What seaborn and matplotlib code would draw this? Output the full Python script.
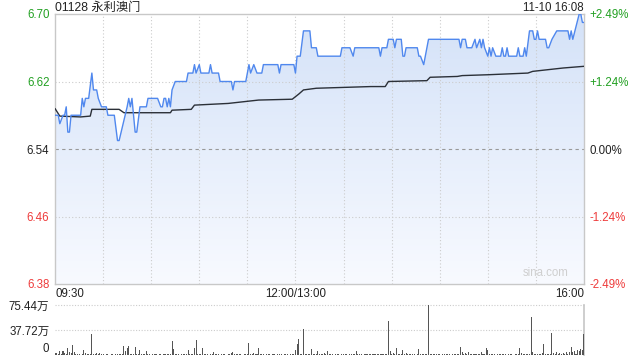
import numpy as np
import matplotlib
matplotlib.use("Agg")
import matplotlib.pyplot as plt
from matplotlib.colors import LinearSegmentedColormap
import seaborn as sns

sns.set_theme(style="white")
plt.rcParams['font.family'] = ['Liberation Sans', 'Noto Sans CJK SC', 'DejaVu Sans']

# ---------------- data ----------------
title = "01128 永利澳门"
stamp = "11-10 16:08"
prev_close = 6.54
y_ticks = [6.38, 6.46, 6.54, 6.62, 6.70]
pct_labels = ["-2.49%", "-1.24%", "0.00%", "+1.24%", "+2.49%"]
x_tick_pos = [0, 150, 330]
x_tick_labels = ["09:30", "12:00/13:00", "16:00"]
vol_ticks = [0, 37.72, 75.44]
vol_tick_labels = ["0", "37.72万", "75.44万"]

# minutes since 09:30 (lunch break removed) and price
price_t = [0, 2, 3, 5, 6, 7, 8, 9, 10, 16, 17, 18, 19, 21, 23, 24, 26, 27, 29, 32,
           33, 37, 39, 40, 45, 46, 47, 48, 50, 51, 53, 57, 58, 64, 66, 67, 68, 69, 70, 71,
           72, 73, 75, 82, 83, 86, 87, 88, 90, 91, 96, 97, 98, 102, 103, 110, 111, 112, 119, 120,
           121, 122, 124, 126, 129, 130, 139, 140, 141, 149, 150, 151, 153, 155, 159, 160, 163, 164, 178, 179,
           184, 186, 187, 202, 203, 204, 207, 208, 211, 212, 213, 216, 217, 218, 219, 226, 227, 228, 230, 231,
           233, 252, 253, 254, 256, 257, 260, 262, 263, 265, 266, 267, 268, 270, 271, 272, 273, 275, 278, 279,
           280, 281, 282, 283, 288, 289, 290, 292, 293, 294, 296, 298, 299, 300, 301, 302, 306, 307, 308, 310,
           313, 320, 321, 322, 323, 327, 328, 329, 330]
price_p = [6.58, 6.58, 6.57, 6.58, 6.58, 6.59, 6.56, 6.56, 6.58, 6.58, 6.60, 6.59, 6.60, 6.60, 6.63, 6.61, 6.61, 6.60, 6.59, 6.59,
           6.58, 6.58, 6.55, 6.55, 6.59, 6.60, 6.59, 6.60, 6.56, 6.56, 6.59, 6.59, 6.60, 6.60, 6.59, 6.59, 6.60, 6.60, 6.59, 6.60,
           6.59, 6.61, 6.62, 6.62, 6.63, 6.63, 6.64, 6.63, 6.64, 6.63, 6.63, 6.64, 6.63, 6.63, 6.62, 6.62, 6.61, 6.62, 6.62, 6.63,
           6.64, 6.63, 6.64, 6.63, 6.63, 6.64, 6.64, 6.63, 6.64, 6.64, 6.63, 6.65, 6.65, 6.68, 6.68, 6.66, 6.66, 6.65, 6.65, 6.66,
           6.66, 6.65, 6.66, 6.66, 6.65, 6.66, 6.66, 6.67, 6.67, 6.66, 6.67, 6.67, 6.65, 6.65, 6.66, 6.66, 6.65, 6.65, 6.64, 6.65,
           6.67, 6.67, 6.66, 6.67, 6.67, 6.66, 6.66, 6.67, 6.66, 6.67, 6.66, 6.67, 6.66, 6.65, 6.66, 6.65, 6.66, 6.65, 6.65, 6.66,
           6.65, 6.65, 6.66, 6.65, 6.65, 6.66, 6.65, 6.65, 6.66, 6.65, 6.68, 6.68, 6.67, 6.67, 6.68, 6.67, 6.67, 6.66, 6.66, 6.67,
           6.68, 6.68, 6.67, 6.68, 6.67, 6.70, 6.70, 6.69, 6.69]

avg_t = [0, 3, 16, 22, 23, 40, 43, 67, 72, 73, 85, 87, 108, 127, 148, 152, 155, 163, 180, 197,
         206, 208, 232, 234, 251, 254, 270, 295, 298, 317, 330]
avg_p = [6.588, 6.579, 6.578, 6.579, 6.587, 6.587, 6.583, 6.583, 6.583, 6.586, 6.587, 6.592, 6.594, 6.598, 6.599,
         6.605, 6.610, 6.612, 6.613, 6.614, 6.614, 6.620, 6.621, 6.625, 6.626, 6.627, 6.628, 6.630, 6.632, 6.636, 6.638]

# volume per minute (万), minutes 0..330
volume = [
    2.5, 2.5, 1.0, 6.0, 1.2, 6.0, 2.5, 1.0, 10.0, 5.0,
    3.0, 14.6, 5.0, 1.5, 0.8, 1.0, 0.6, 1.2, 7.0, 2.5,
    1.5, 0.8, 1.0, 31.0, 2.0, 1.0, 2.5, 0.8, 2.5, 1.0,
    0.8, 0.6, 1.0, 0.8, 0.5, 0.8, 1.0, 0.7, 1.0, 0.8,
    1.0, 0.8, 1.2, 13.0, 6.0, 10.0, 13.0, 2.0, 1.0, 0.8,
    11.5, 2.0, 1.0, 7.0, 2.0, 1.0, 0.8, 6.0, 1.0, 0.8,
    0.6, 1.0, 0.8, 1.2, 0.6, 1.0, 0.8, 0.7, 1.0, 0.8,
    1.0, 0.8, 1.2, 21.0, 8.5, 1.5, 0.8, 1.0, 0.7, 0.8,
    1.0, 0.8, 1.2, 7.0, 2.0, 1.0, 0.8, 10.0, 22.6, 1.5,
    0.8, 1.0, 10.0, 1.2, 0.8, 1.0, 0.7, 1.0, 0.8, 4.0,
    1.0, 0.8, 1.5, 0.7, 1.0, 0.8, 1.2, 0.6, 1.0, 0.8,
    3.0, 4.0, 2.0, 1.5, 1.0, 0.8, 1.0, 0.7, 0.8, 1.0,
    0.8, 18.0, 2.0, 1.0, 2.5, 1.0, 0.8, 10.0, 1.2, 0.8,
    1.0, 0.7, 1.2, 0.8, 1.0, 0.6, 0.8, 1.0, 0.7, 1.0,
    0.8, 1.0, 0.7, 1.2, 0.8, 1.0, 0.6, 1.0, 0.8, 1.2,
    7.5, 16.0, 24.0, 1.0, 0.8, 38.7, 1.0, 0.8, 1.2, 0.8,
    9.0, 1.0, 0.8, 1.0, 6.0, 1.0, 2.0, 1.2, 2.5, 1.0,
    6.0, 1.0, 0.8, 1.2, 0.7, 1.0, 0.8, 1.0, 0.6, 0.8,
    1.0, 0.8, 1.2, 0.7, 1.0, 1.5, 0.8, 1.2, 6.0, 1.0,
    0.8, 1.0, 0.7, 1.2, 0.8, 1.0, 1.5, 0.8, 1.0, 1.2,
    2.0, 1.0, 0.8, 1.0, 1.2, 0.8, 1.0, 1.5, 51.3, 6.0,
    1.0, 2.5, 1.0, 10.0, 1.0, 2.0, 1.0, 7.0, 1.0, 2.5,
    1.0, 0.8, 1.2, 0.8, 1.0, 0.7, 1.0, 9.0, 2.0, 1.0,
    0.8, 1.0, 1.2, 75.4, 2.0, 1.0, 0.8, 1.2, 1.0, 0.8,
    1.0, 0.7, 1.2, 0.8, 1.0, 0.8, 1.2, 0.7, 1.0, 0.8,
    1.0, 1.2, 0.8, 11.5, 4.0, 1.0, 2.5, 1.0, 4.0, 1.0,
    0.8, 1.0, 2.0, 1.0, 0.8, 1.2, 4.0, 1.0, 1.2, 10.0,
    7.0, 1.0, 0.8, 1.0, 1.2, 0.7, 1.0, 0.8, 1.2, 1.0,
    0.8, 1.0, 0.7, 1.2, 0.8, 1.0, 0.7, 1.0, 1.2, 0.8,
    10.0, 2.5, 1.0, 0.8, 1.0, 1.2, 0.8, 56.8, 4.0, 1.0,
    2.0, 1.0, 1.2, 0.8, 3.0, 16.0, 1.0, 0.8, 1.2, 1.0,
    32.7, 2.5, 1.0, 4.0, 1.5, 3.0, 1.2, 3.0, 1.5, 4.0,
    2.0, 5.0, 12.5, 5.0, 6.0, 2.0, 7.5, 6.0, 8.5, 7.5,
    31.0,
]
vol_t = list(range(len(volume)))

# ---------------- styling ----------------
GREEN = '#22a022'
RED = '#ee3b3b'
DARK = '#222222'
SPINE = '#c8c8c8'
GRID = '#cccccc'
FS = 8.3

fig = plt.figure(figsize=(6.4, 3.6), dpi=100)
fig.patch.set_facecolor('white')
ax = fig.add_axes([55 / 640, 1 - 284 / 360, 529 / 640, 270 / 360])
axv = fig.add_axes([55 / 640, 1 - 355 / 360, 529 / 640, 50 / 360])

xmin, xmax = 0, 330
ymin, ymax = y_ticks[0], y_ticks[-1]
ax.set_xlim(xmin, xmax)
ax.set_ylim(ymin, ymax)
ax.set_facecolor('white')

# gradient fill under price line
fill = ax.fill_between(price_t, price_p, ymin, color='none', lw=0)
cmap = LinearSegmentedColormap.from_list('g', ['#f8faff', '#d4e2f8'])
grad = np.linspace(0, 1, 256).reshape(-1, 1)
im = ax.imshow(grad, extent=[xmin, xmax, ymin, ymax], origin='lower', aspect='auto',
               cmap=cmap, zorder=1)
im.set_clip_path(fill.get_paths()[0], transform=ax.transData)

# grid lines
for xv in range(30, 330, 30):
    ax.axvline(xv, color=GRID, lw=0.8, ls=(0, (1, 2)), zorder=2)
for yv in y_ticks[1:-1]:
    if abs(yv - prev_close) < 1e-9:
        ax.axhline(yv, color='#999999', lw=0.8, ls=(0, (3, 3)), zorder=2)
    else:
        ax.axhline(yv, color=GRID, lw=0.8, ls=(0, (1, 2)), zorder=2)

sns.lineplot(x=price_t, y=price_p, ax=ax, color='#5088ee', lw=1.0, zorder=4)
sns.lineplot(x=avg_t, y=avg_p, ax=ax, color='#2b3038', lw=1.0, zorder=3)

for s in ax.spines.values():
    s.set_color(SPINE)
    s.set_linewidth(1.0)

ax.set_yticks(y_ticks)
ax.set_yticklabels([f"{v:.2f}" for v in y_ticks])
ycols = [RED, RED, DARK, GREEN, GREEN]
for lab, c in zip(ax.get_yticklabels(), ycols):
    lab.set_color(c)
ax.tick_params(axis='y', length=0, pad=4, labelsize=FS)
ax.set_xticks(x_tick_pos)
ax.set_xticklabels(x_tick_labels)
ax.tick_params(axis='x', length=0, pad=3, labelsize=FS, colors=DARK)
xl = ax.get_xticklabels()
xl[0].set_ha('left')
xl[2].set_ha('right')
ax.set_xlabel('')
ax.set_ylabel('')

axr = ax.twinx()
axr.set_ylim(ymin, ymax)
axr.set_yticks(y_ticks)
axr.set_yticklabels(pct_labels)
for lab, c in zip(axr.get_yticklabels(), ycols):
    lab.set_color(c)
axr.tick_params(axis='y', length=0, pad=4, labelsize=FS)
for s in axr.spines.values():
    s.set_visible(False)

# texts
fig.text(55 / 640, 1 - 8 / 360, title, ha='left', va='center', fontsize=FS + 0.5, color=DARK)
fig.text(584 / 640, 1 - 8 / 360, stamp, ha='right', va='center', fontsize=FS, color=DARK)
ax.text(0.97, 0.02, "sina.com", transform=ax.transAxes, ha='right', va='bottom',
        fontsize=FS, color='#cfcfcf', zorder=5)

# volume panel
axv.set_xlim(xmin, xmax)
axv.set_ylim(0, vol_ticks[-1])
axv.set_facecolor('white')
axv.bar(vol_t, volume, width=0.65, color='#555555', lw=0, zorder=3)
for yv in vol_ticks[1:]:
    axv.axhline(yv, color=GRID, lw=0.8, ls=(0, (1, 1.5)), zorder=2, clip_on=False)
for k, s in axv.spines.items():
    s.set_visible(k == 'right')
    s.set_color(SPINE)
axv.set_xticks([])
axv.set_yticks(vol_ticks)
axv.set_yticklabels(vol_tick_labels)
axv.tick_params(axis='y', length=0, pad=4, labelsize=FS, colors=DARK)
axv.get_yticklabels()[0].set_va('bottom')

fig.savefig('out.png', dpi=100)
